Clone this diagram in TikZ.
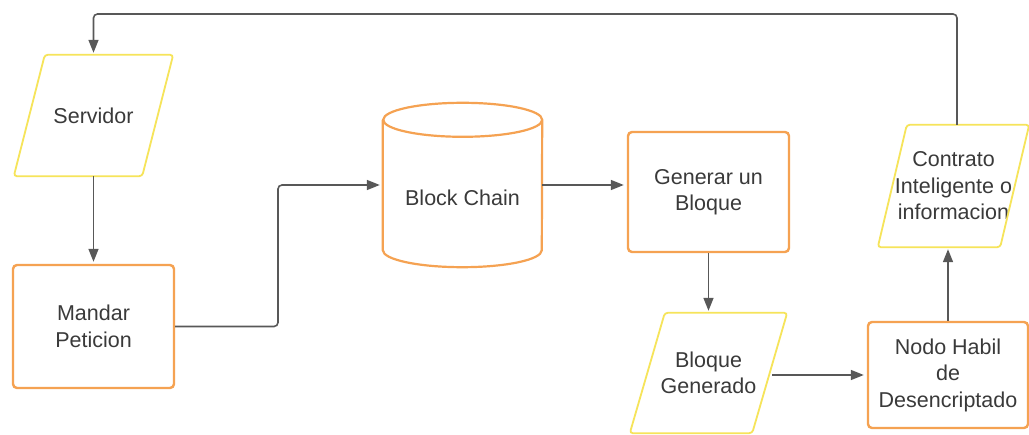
\documentclass[tikz,border=0pt]{standalone}
\usepackage{fontspec}
\setmainfont{Liberation Sans}
\usetikzlibrary{arrows.meta}
\definecolor{procline}{RGB}{245,162,82}
\definecolor{ioline}{RGB}{246,228,90}
\definecolor{conngray}{RGB}{88,88,88}
\definecolor{textgray}{RGB}{58,58,58}
\begin{document}
\begin{tikzpicture}[x=1pt,y=-1pt,
  lbl/.style={text=textgray, font=\fontsize{21.5}{26.5}\selectfont, align=center, inner sep=0pt},
  procbox/.style={lbl, draw=procline, line width=2.4pt, rounded corners=4pt},
  iobox/.style={lbl},
  iopath/.style={draw=ioline, line width=1.8pt, rounded corners=3pt, line join=round},
  dbpath/.style={draw=procline, line width=2.2pt},
  conn/.style={draw=conngray, line width=1.6pt, rounded corners=4pt,
    -{Triangle[length=13pt,width=10pt]}}]
\fill[white] (0,0) rectangle (1029,435);
\useasboundingbox (0,0) rectangle (1029,435);

% process boxes
\node[procbox, minimum width=161pt, minimum height=123pt] (md) at (93.5,326.5) {Mandar\\Peticion};
\node[procbox, minimum width=161pt, minimum height=120pt] (gen) at (708.5,192) {Generar un\\Bloque};
\node[procbox, minimum width=160pt, minimum height=106pt] (nd) at (948,375) {Nodo Habil\\de\\Desencriptado};

% input/output parallelograms
\node[iobox, minimum width=159pt, minimum height=121pt] (srv) at (93.5,115.5) {Servidor};
\draw[iopath] ([xshift=31pt]srv.north west) -- (srv.north east) -- ([xshift=-31pt]srv.south east) -- (srv.south west) -- cycle;

\node[iobox, minimum width=157pt, minimum height=120pt] (bg) at (708.5,373) {Bloque\\Generado};
\draw[iopath] ([xshift=35pt]bg.north west) -- (bg.north east) -- ([xshift=-35pt]bg.south east) -- (bg.south west) -- cycle;

\node[iobox, minimum width=151pt, minimum height=122pt] (ct) at (953.5,186) {Contrato\\Inteligente o\\informacion};
\draw[iopath] ([xshift=29pt]ct.north west) -- (ct.north east) -- ([xshift=-29pt]ct.south east) -- (ct.south west) -- cycle;

% database cylinder
\node[minimum width=159pt, minimum height=130pt, inner sep=0pt,
  label={[lbl, yshift=-13pt]center:Block Chain}] (bc) at (462.5,185) {};
\draw[dbpath] (bc.north west) -- (bc.south west)
  arc[start angle=180, end angle=360, x radius=79.5pt, y radius=17pt]
  -- (bc.north east)
  arc[start angle=0, end angle=360, x radius=79.5pt, y radius=17pt];

% connectors
\coordinate (toprow) at (0,14);
\coordinate (elbow) at (278,0);
\draw[conn] ([xshift=3.5pt]ct.north) |- (srv.north |- toprow) -- ([yshift=2pt]srv.north);
\draw[conn] (srv.south) -- ([yshift=2pt]md.north);
\draw[conn] (md.east) -- (md.east -| elbow) |- ([xshift=-3pt]bc.west);
\draw[conn] (bc.east) -- ([xshift=-3pt]bc.east -| gen.west);
\draw[conn] (gen.south) -- ([yshift=2pt]bg.north);
\draw[conn] ([xshift=-15pt,yshift=-2pt]bg.east) -- ([xshift=-3pt,yshift=-2pt]bg.east -| nd.west);
\draw[conn] (nd.north) -- ([yshift=-2pt]nd.north |- ct.south);
\end{tikzpicture}
\end{document}
